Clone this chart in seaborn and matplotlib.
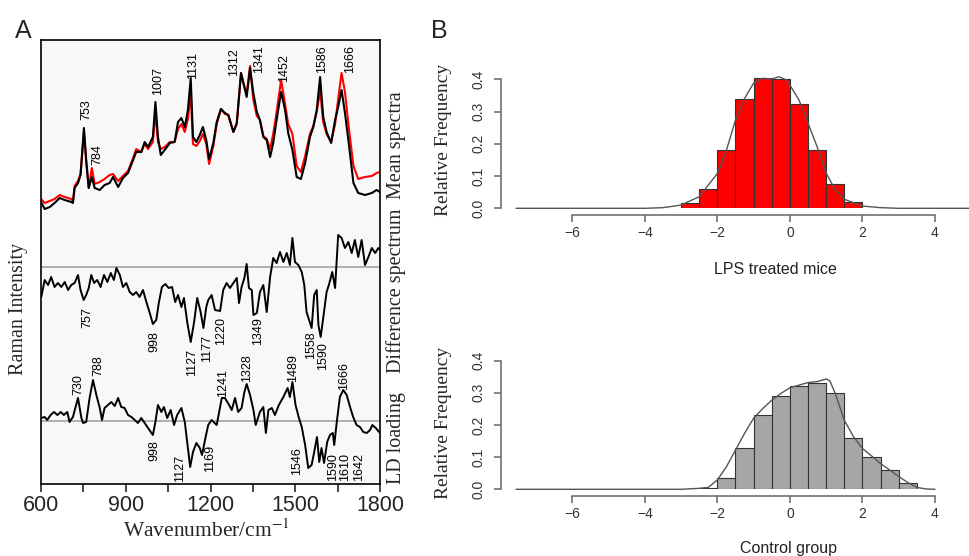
import matplotlib
matplotlib.use("Agg")
import matplotlib.pyplot as plt
import seaborn as sns

# ---- Panel A: Raman spectra (intensity in arbitrary units) ----
mean_wn = [600, 613, 631, 648, 666, 684, 707, 713, 719, 731, 740, 752, 760, 769, 780, 790,
           808, 825, 843, 855, 873, 890, 908, 926, 937, 955, 967, 979, 996, 1005, 1014, 1024,
           1038, 1056, 1073, 1085, 1097, 1109, 1120, 1130, 1138, 1150, 1162, 1173, 1185, 1195,
           1210, 1222, 1237, 1251, 1263, 1281, 1293, 1308, 1320, 1328, 1340, 1351, 1364, 1375,
           1387, 1399, 1411, 1422, 1434, 1450, 1464, 1475, 1490, 1505, 1520, 1535, 1552, 1564,
           1576, 1588, 1599, 1611, 1627, 1641, 1652, 1664, 1676, 1688, 1706, 1723, 1747, 1771,
           1788, 1800]
mean_control = [282, 275, 277, 281, 286, 284, 282, 281, 296, 301, 309, 356, 324, 296, 307, 296,
                294, 299, 301, 307, 297, 306, 311, 324, 332, 332, 342, 337, 347, 382, 347, 329,
                334, 341, 342, 362, 366, 357, 374, 406, 347, 342, 349, 357, 344, 325,
                341, 362, 375, 371, 369, 352, 361, 411, 397, 387, 416, 392, 372, 364,
                347, 344, 327, 341, 364, 392, 374, 351, 334, 307, 305, 321, 347, 357,
                374, 407, 367, 352, 341, 364, 377, 394, 371, 344, 301, 291, 289, 291,
                294, 292]
mean_lps = [285, 281, 283, 285, 289, 287, 285, 283, 298, 303, 310, 352, 322, 296, 316, 300,
            302, 305, 309, 310, 303, 308, 313, 326, 335, 332, 340, 335, 342, 372, 342, 335,
            337, 342, 342, 355, 360, 352, 365, 390, 340, 338, 343, 350, 340, 320,
            338, 360, 375, 370, 369, 352, 360, 411, 397, 390, 418, 385, 368, 364,
            348, 345, 335, 350, 372, 404, 380, 360, 350, 318, 312, 328, 350, 358,
            372, 393, 362, 350, 342, 360, 385, 411, 392, 360, 318, 305, 307, 308,
            311, 312]

diff_wn = [601, 613, 625, 636, 648, 660, 672, 684, 696, 707, 719, 731, 740, 751, 760, 769,
           778, 788, 799, 811, 823, 835, 847, 858, 867, 879, 890, 902, 914, 926, 937, 949,
           961, 973, 985, 996, 1008, 1017, 1028, 1040, 1052, 1064, 1075, 1085, 1097, 1106,
           1118, 1130, 1142, 1153, 1165, 1175, 1185, 1192, 1204, 1216, 1234, 1245, 1257, 1269,
           1281, 1293, 1301, 1310, 1320, 1328, 1336, 1346, 1352, 1364, 1375, 1387, 1399, 1411,
           1422, 1434, 1446, 1458, 1470, 1481, 1490, 1499, 1511, 1523, 1532, 1540, 1549, 1558,
           1567, 1576, 1582, 1590, 1599, 1611, 1619, 1631, 1641, 1652, 1664, 1676, 1688, 1700,
           1711, 1723, 1735, 1747, 1759, 1771, 1783, 1794, 1800]
diff_vals = [187, 204, 199, 207, 197, 201, 197, 202, 194, 199, 201, 209, 194, 184, 189, 196,
             209, 201, 204, 197, 209, 202, 211, 204, 216, 209, 197, 201, 192, 189, 192, 187,
             194, 182, 171, 160, 164, 181, 197, 200, 196, 197, 182, 189, 177, 186,
             161, 142, 162, 186, 172, 156, 177, 184, 189, 174, 173, 194, 201, 196,
             201, 206, 181, 197, 206, 220, 196, 194, 169, 171, 192, 199, 172, 207,
             226, 221, 232, 222, 231, 219, 246, 222, 219, 212, 199, 172, 164, 156,
             189, 194, 159, 147, 166, 192, 199, 212, 196, 249, 246, 236, 242, 231,
             244, 227, 244, 219, 227, 236, 231, 236, 234]
diff_zero = 217

ld_wn = [601, 613, 622, 634, 646, 658, 670, 681, 693, 701, 713, 731, 743, 749, 760, 772,
         784, 796, 808, 816, 825, 837, 849, 861, 873, 884, 896, 908, 920, 932, 943, 955,
         967, 979, 996, 1005, 1014, 1026, 1035, 1047, 1059, 1071, 1082, 1097, 1109, 1120,
         1128, 1138, 1150, 1162, 1170, 1182, 1192, 1204, 1222, 1240, 1251, 1266, 1275, 1287,
         1298, 1310, 1320, 1328, 1340, 1352, 1360, 1375, 1387, 1396, 1405, 1417, 1428, 1442,
         1458, 1473, 1481, 1490, 1501, 1513, 1523, 1535, 1546, 1558, 1567, 1577, 1585, 1593,
         1602, 1613, 1623, 1633, 1638, 1647, 1658, 1670, 1682, 1694, 1705, 1717, 1729, 1741,
         1753, 1765, 1773, 1785, 1800]
ld_vals = [66, 67, 64, 69, 72, 69, 72, 69, 72, 62, 67, 86, 66, 61, 62, 86,
           104, 89, 76, 64, 76, 79, 82, 78, 86, 77, 76, 69, 67, 64, 61, 66,
           61, 56, 49, 62, 79, 72, 77, 66, 74, 59, 69, 76, 62, 36,
           17, 32, 41, 36, 29, 46, 59, 64, 59, 86, 86, 79, 74, 86,
           72, 76, 92, 100, 89, 74, 59, 72, 77, 51, 74, 76, 69, 79,
           87, 96, 87, 102, 79, 66, 57, 39, 16, 19, 32, 47, 22, 36,
           21, 42, 49, 51, 39, 62, 87, 94, 89, 77, 67, 59, 57, 52,
           51, 54, 59, 56, 51]
ld_zero = 63

# peak labels: (text, x position, y position); "up" labels sit above, "down" hang below
mean_labels = [("753", 762, 364), ("784", 798, 319), ("1007", 1014, 389), ("1131", 1138, 405),
               ("1312", 1283, 408), ("1341", 1372, 411), ("1452", 1460, 402),
               ("1586", 1595, 411), ("1666", 1694, 411)]
diff_labels = [("757", 764, 177), ("998", 1000, 153), ("1127", 1133, 135), ("1177", 1187, 149),
               ("1220", 1236, 167), ("1349", 1369, 167), ("1558", 1555, 153), ("1590", 1599, 142)]
ld_up_labels = [("730", 731, 89), ("788", 802, 108), ("1241", 1245, 87), ("1328", 1328, 102),
                ("1489", 1493, 102), ("1666", 1674, 94)]
ld_down_labels = [("998", 1000, 44), ("1127", 1092, 29), ("1169", 1198, 39), ("1546", 1505, 37),
                  ("1590", 1635, 31), ("1610", 1676, 31), ("1642", 1726, 31)]

# ---- Panel B: histograms of LD scores ----
bin_edges_lps = [-3.0, -2.5, -2.0, -1.5, -1.0, -0.5, 0.0, 0.5, 1.0, 1.5, 2.0]
freq_lps = [0.015, 0.060, 0.181, 0.340, 0.403, 0.401, 0.322, 0.181, 0.075, 0.021]
dens_lps_x = [-7.55, -4.0, -3.5, -3.0, -2.5, -2.0, -1.75, -1.5, -1.25, -1.0, -0.75, -0.5, -0.3,
              -0.1, 0.0, 0.25, 0.5, 0.75, 1.0, 1.25, 1.5, 2.0, 2.5, 3.0, 4.95]
dens_lps_y = [0, 0, 0.002, 0.010, 0.036, 0.108, 0.180, 0.274, 0.341, 0.388, 0.403, 0.401, 0.408,
              0.398, 0.382, 0.336, 0.264, 0.191, 0.109, 0.057, 0.028, 0.007, 0.002, 0, 0]

bin_edges_ctrl = [-2.5, -2.0, -1.5, -1.0, -0.5, 0.0, 0.5, 1.0, 1.5, 2.0, 2.5, 3.0, 3.5]
freq_ctrl = [0.003, 0.036, 0.127, 0.231, 0.291, 0.321, 0.332, 0.301, 0.159, 0.102, 0.060, 0.019]
dens_ctrl_x = [-7.55, -3.0, -2.5, -2.25, -2.0, -1.75, -1.5, -1.25, -1.0, -0.75, -0.5, -0.25, 0.0,
               0.25, 0.5, 0.75, 1.0, 1.1, 1.25, 1.5, 1.75, 2.0, 2.25, 2.5, 2.75, 3.0, 3.25,
               3.5, 3.75, 4.0]
dens_ctrl_y = [0, 0, 0.003, 0.006, 0.029, 0.070, 0.122, 0.174, 0.221, 0.251, 0.277, 0.298, 0.316,
               0.324, 0.332, 0.335, 0.343, 0.338, 0.298, 0.215, 0.164, 0.127, 0.104, 0.080,
               0.060, 0.040, 0.021, 0.006, 0.001, 0]

sns.set_style("white")
plt.rcParams['font.family'] = ['Liberation Sans', 'DejaVu Sans']
plt.rcParams['mathtext.fontset'] = 'stix'

W, H = 969, 556
fig = plt.figure(figsize=(W / 100, H / 100), dpi=100)


def box(x0, y0, x1, y1):
    # pixel box -> figure fraction rect
    return [x0 / W, 1 - y1 / H, (x1 - x0) / W, (y1 - y0) / H]


def ftext(px, py, s, **kw):
    # text placed in figure pixels (from top-left)
    return fig.text(px / W, 1 - py / H, s, **kw)


# ---------- Panel A ----------
axA = fig.add_axes(box(41, 40, 380, 484))
axA.set_facecolor('#f8f8f8')
sns.lineplot(x=mean_wn, y=mean_lps, ax=axA, color='red', lw=1.5, estimator=None)
sns.lineplot(x=mean_wn, y=mean_control, ax=axA, color='black', lw=1.5, estimator=None)
axA.axhline(diff_zero, color='#aaaaaa', lw=1.3, zorder=1)
axA.axhline(ld_zero, color='#aaaaaa', lw=1.3, zorder=1)
sns.lineplot(x=diff_wn, y=diff_vals, ax=axA, color='black', lw=1.4, estimator=None)
sns.lineplot(x=ld_wn, y=ld_vals, ax=axA, color='black', lw=1.4, estimator=None)

axA.set_xlim(600, 1800)
axA.set_ylim(0, 444)
axA.set_yticks([])
axA.set_xticks([600, 900, 1200, 1500, 1800])
axA.set_xticks([750, 1050, 1350, 1650], minor=True)
axA.tick_params(axis='x', which='both', direction='out', length=6, width=1.2,
                bottom=True, labelsize=15.5, pad=2)
for s in axA.spines.values():
    s.set_color('black')
    s.set_linewidth(1.2)
axA.set_xlabel('')
axA.set_ylabel('')

lab_kw = dict(rotation=90, ha='center', fontsize=9, color='black', family='Liberation Sans')
for t, x, y in mean_labels + ld_up_labels:
    axA.text(x, y, t, va='bottom', **lab_kw)
for t, x, y in diff_labels + ld_down_labels:
    axA.text(x, y, t, va='top', **lab_kw)

serif = ['Liberation Serif', 'DejaVu Serif']
side_kw = dict(rotation=90, ha='center', va='center', family=serif, fontsize=14.5)
ftext(396, 145, 'Mean spectra', **side_kw)
ftext(396, 291, 'Difference spectrum', **side_kw)
ftext(396, 438, 'LD loading', **side_kw)
ftext(19, 309, 'Raman Intensity', **side_kw)
ftext(206, 531, 'Wavenumber/cm$^{-1}$', ha='center', va='center', family=serif, fontsize=15.5)
ftext(23, 31, 'A', ha='center', va='center', fontsize=18)
ftext(439, 31, 'B', ha='center', va='center', fontsize=18)


# ---------- Panel B ----------
def hist_panel(rect, edges, freqs, dens_x, dens_y, color):
    ax = fig.add_axes(rect)
    centers = [(edges[i] + edges[i + 1]) / 2 for i in range(len(freqs))]
    sns.histplot(x=centers, weights=freqs, bins=edges, ax=ax, color=color, alpha=1,
                 edgecolor='#333333', linewidth=0.8)
    sns.lineplot(x=dens_x, y=dens_y, ax=ax, color='#555555', lw=1.0, clip_on=False)
    ax.set_xlim(-7.965, 4.938)
    ax.set_ylim(0, 0.42)
    ax.set_xticks([-6, -4, -2, 0, 2, 4])
    ax.set_yticks([0, 0.1, 0.2, 0.3, 0.4])
    ax.set_yticklabels(['0.0', '0.1', '0.2', '0.3', '0.4'], rotation=90, va='center')
    ax.spines['top'].set_visible(False)
    ax.spines['right'].set_visible(False)
    ax.spines['left'].set_bounds(0, 0.4)
    ax.spines['bottom'].set_bounds(-6, 4)
    ax.spines['bottom'].set_position(('outward', 5))
    for s in ('left', 'bottom'):
        ax.spines[s].set_color('#666666')
        ax.spines[s].set_linewidth(1.1)
    ax.tick_params(axis='both', direction='out', length=5, width=1.1, color='#666666',
                   labelsize=10, labelcolor='#333333', left=True, bottom=True)
    ax.tick_params(axis='y', pad=6)
    ax.tick_params(axis='x', pad=3)
    ax.set_xlabel('')
    ax.set_ylabel('')
    ax.patch.set_alpha(0)
    return ax


hist_panel([501 / W, 1 - 208.3 / H, 468 / W, 0.42 * 322.5 / H], bin_edges_lps, freq_lps,
           dens_lps_x, dens_lps_y, 'red')
hist_panel([501 / W, 1 - 489.3 / H, 468 / W, 0.42 * 321.5 / H], bin_edges_ctrl, freq_ctrl,
           dens_ctrl_x, dens_ctrl_y, '#a6a6a6')

ftext(775, 274, 'LPS treated mice', ha='center', va='baseline', fontsize=11.5, color='#222222')
ftext(788, 552.5, 'Control group', ha='center', va='baseline', fontsize=11.5, color='#222222')
ftext(443, 140, 'Relative Frequency', rotation=90, ha='center', va='center',
      family=serif, fontsize=14)
ftext(443, 423, 'Relative Frequency', rotation=90, ha='center', va='center',
      family=serif, fontsize=14)

fig.savefig('out.png', dpi=100)
plt.close(fig)
